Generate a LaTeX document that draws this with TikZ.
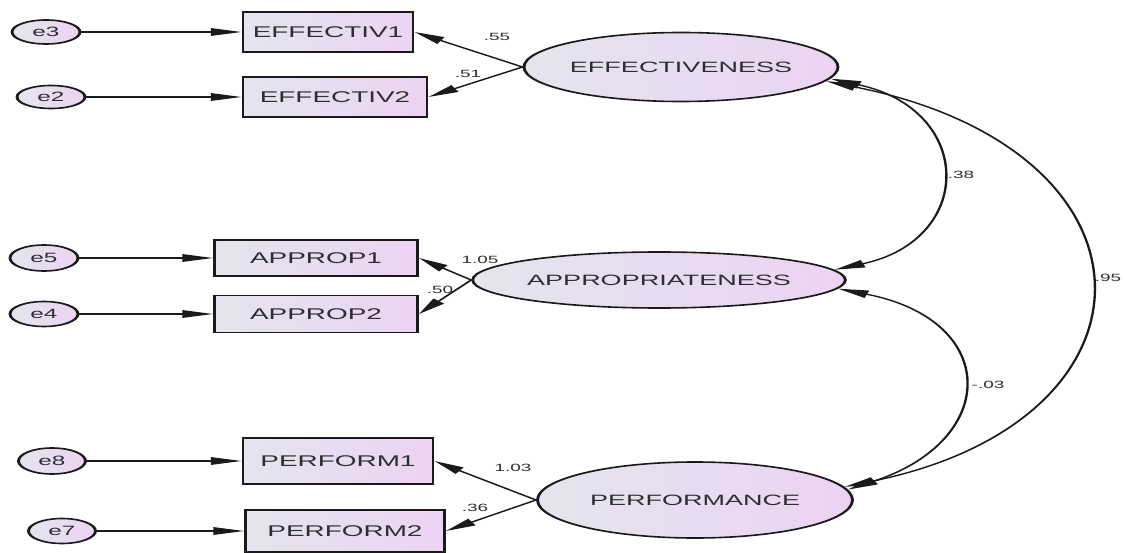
\documentclass[tikz,border=0pt]{standalone}
\usepackage{fontspec}
\setmainfont{Liberation Sans}
\usetikzlibrary{shapes.geometric,arrows.meta}
\definecolor{fillL}{HTML}{E4E5EE}
\definecolor{fillR}{HTML}{ECD3F2}
\definecolor{ln}{HTML}{1A1A1A}
\definecolor{txt}{HTML}{2E2E33}
\begin{document}
\begin{tikzpicture}[x=1pt,y=-1pt,
  shp/.style={draw=ln, line width=1.6pt, left color=fillL, right color=fillR, inner sep=0pt, text=txt},
  lat/.style={shp, ellipse, font=\fontsize{15}{15}\selectfont},
  err/.style={shp, ellipse, font=\fontsize{13.5}{13.5}\selectfont},
  obs/.style={shp, rectangle, font=\fontsize{15.5}{15.5}\selectfont},
  tipA/.tip={Triangle[length=17pt,width=7.5pt]},
  arr/.style={draw=ln, line width=1.3pt, -tipA},
  cov/.style={draw=ln, line width=1.3pt, tipA-tipA},
  lab/.style={text=txt, font=\fontsize{10.5}{10.5}\selectfont, inner sep=0pt}]
\useasboundingbox (0,0) rectangle (1124,553);
\fill[white] (0,0) rectangle (1124,553);
\begin{scope}
\pgflowlevel{\pgftransformxscale{1.8}}
\begin{scope}[x=0.55556pt]
% error terms
\node[err, minimum width=68/1.8, minimum height=24] (e3) at (46,32) {e3};
\node[err, minimum width=68/1.8, minimum height=23] (e2) at (51,97) {e2};
\node[err, minimum width=68/1.8, minimum height=26] (e5) at (44,258) {e5};
\node[err, minimum width=68/1.8, minimum height=25] (e4) at (44,314) {e4};
\node[err, minimum width=67/1.8, minimum height=26] (e8) at (52,461) {e8};
\node[err, minimum width=67/1.8, minimum height=25] (e7) at (62,531) {e7};
% observed
\node[obs, minimum width=170/1.8, minimum height=40] (ef1) at (328,32) {EFFECTIV1};
\node[obs, minimum width=184/1.8, minimum height=40] (ef2) at (335,97) {EFFECTIV2};
\node[obs, minimum width=203/1.8, minimum height=36] (ap1) at (316,258) {APPROP1};
\node[obs, minimum width=203/1.8, minimum height=37] (ap2) at (316,314) {APPROP2};
\node[obs, minimum width=190/1.8, minimum height=46] (pf1) at (338,461) {PERFORM1};
\node[obs, minimum width=199/1.8, minimum height=42] (pf2) at (345,531) {PERFORM2};
% latent
\node[lat, minimum width=272/1.8, minimum height=69] (EFF) at (681,67) {EFFECTIVENESS};
\node[lat, minimum width=331/1.8, minimum height=56] (APP) at (659,280) {APPROPRIATENESS};
\node[lat, minimum width=315/1.8, minimum height=76] (PER) at (695,500) {PERFORMANCE};
% error arrows
\draw[arr] (e3) -- (ef1);
\draw[arr] (e2) -- (ef2);
\draw[arr] (e5) -- (ap1);
\draw[arr] (e4) -- (ap2);
\draw[arr] (e8) -- (pf1);
\draw[arr] (e7) -- (pf2);
% loadings
\draw[arr] (EFF.west) -- (ef1.east);
\draw[arr] (EFF.west) -- (ef2.east);
\draw[arr] (APP.west) -- (ap1.east);
\draw[arr] (APP.west) -- (ap2.east);
\draw[arr] (PER.west) -- (pf1.east);
\draw[arr] (PER.west) -- (pf2.east);
% covariances
\draw[cov] (EFF.352) .. controls (975,110) and (975,240) .. (APP.6);
\draw[cov] (APP.355) .. controls (1000,320) and (1000,440) .. (PER.7);
\draw[cov] (EFF.350) .. controls (1172,150) and (1172,420) .. (PER.9);
% labels
\node[lab] (l55) at (497,37) {.55};
\node[lab] (l51) at (468,74) {.51};
\node[lab] (l105) at (480,260) {1.05};
\node[lab] (l50) at (440,290) {.50};
\node[lab] (l103) at (513,468) {1.03};
\node[lab] (l36) at (475,508) {.36};
\node[lab] (l38) at (961,175) {.38};
\node[lab] (l03) at (988,385) {-.03};
\node[lab] (l95) at (1108,278) {.95};
\end{scope}
\end{scope}
\end{tikzpicture}
\end{document}
